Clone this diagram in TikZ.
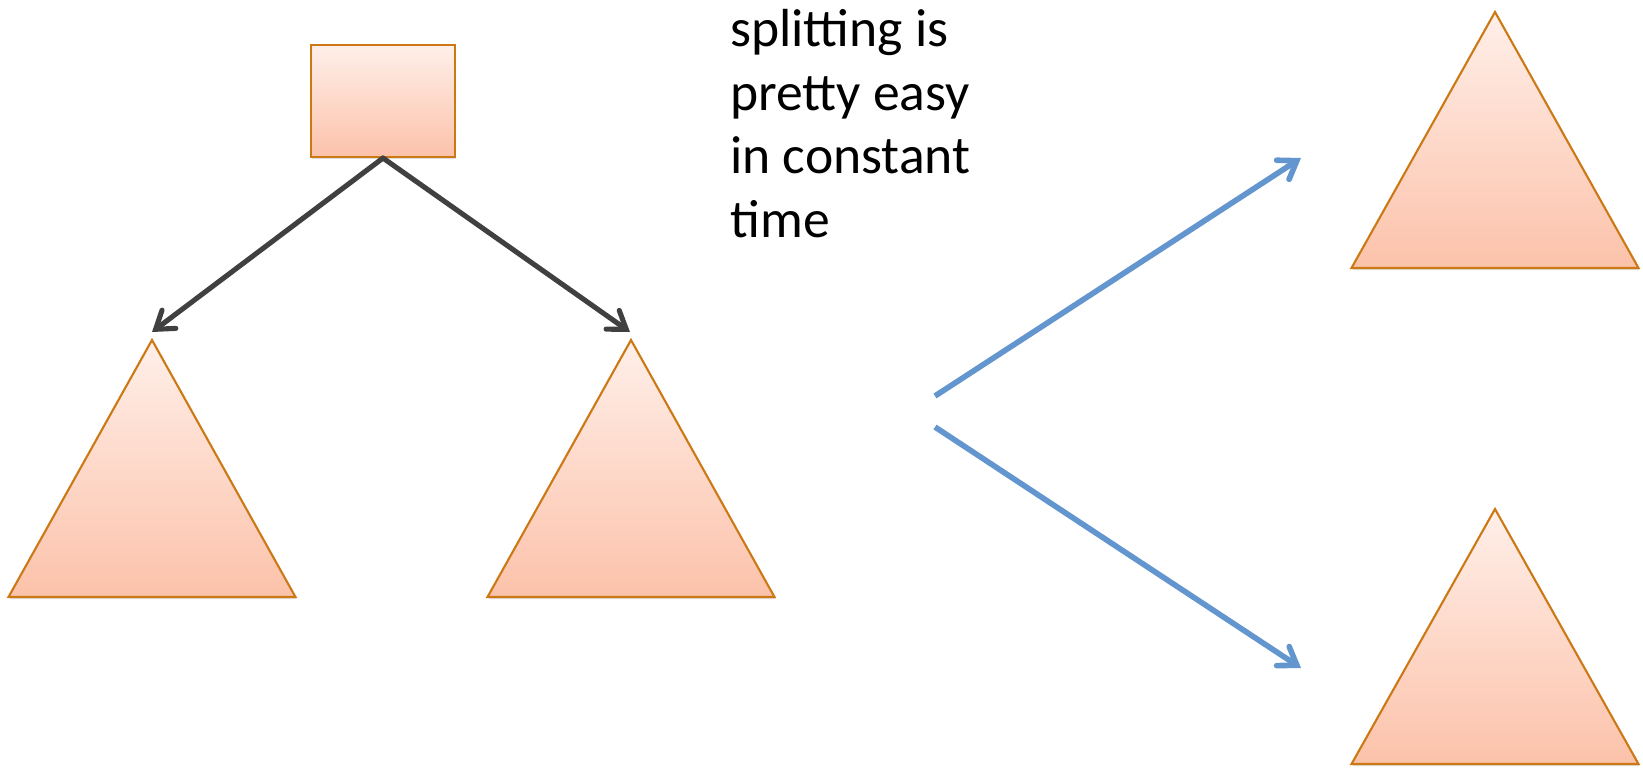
\documentclass[tikz,border=0pt]{standalone}
\usepackage{fontspec}
\setmainfont{Carlito}
\usepackage{tikz}
\usetikzlibrary{arrows.meta, shadows, positioning}

\definecolor{treeborder}{RGB}{204,120,20}
\definecolor{treetop}{RGB}{255,239,233}
\definecolor{treebottom}{RGB}{252,194,170}
\definecolor{edgegray}{RGB}{64,64,64}
\definecolor{splitblue}{RGB}{99,150,206}

\tikzset{
    treeshape/.style={draw=treeborder, line width=1.2pt, line join=miter,
        top color=treetop, bottom color=treebottom,
        drop shadow={opacity=0.25, shadow xshift=0.6pt, shadow yshift=-1.2pt}},
    edge/.style={draw=edgegray, line width=2.9pt, line cap=round,
        -{Straight Barb[length=9.5pt, width=13pt, line cap=round]}},
    split/.style={draw=splitblue, line width=3.2pt,
        -{Straight Barb[length=9.5pt, width=13pt, line cap=round]}},
}

\begin{document}
\begin{tikzpicture}[x=0.02cm, y=-0.02cm]
    \useasboundingbox (0,0) rectangle (1643,770);

    % root node with its two subtrees
    \node[treeshape, minimum width=2.88cm, minimum height=2.24cm, inner sep=0] (root) at (383,101) {};
    \coordinate (lapex) at (152,340);
    \coordinate (rapex) at (631,340);
    \draw[treeshape] (lapex) -- ++(-143.5,257) -- ++(287,0) -- cycle;
    \draw[treeshape] (rapex) -- ++(-143.5,257) -- ++(287,0) -- cycle;
    \coordinate (ltip) at (152,332);
    \coordinate (rtip) at (630,332);
    \draw[edge] (root.south) -- (ltip);
    \draw[edge] (root.south) -- (rtip);

    \node[anchor=north west, align=left, inner sep=0,
          font=\fontsize{30.5}{36.2}\selectfont] (note) at (730,9)
        {splitting is\\pretty easy\\in constant\\time};

    % the two trees after the split
    \coordinate (tapex) at (1495,12);
    \coordinate (bapex) at (1495,509);
    \draw[treeshape] (tapex) -- ++(-143.5,256) -- ++(287,0) -- cycle;
    \draw[treeshape] (bapex) -- ++(-143.5,255) -- ++(287,0) -- cycle;
    \coordinate (ufrom) at (935,396);
    \coordinate (uto) at (1301,158);
    \coordinate (dfrom) at (935,427);
    \coordinate (dto) at (1301,668);
    \draw[split] (ufrom) -- (uto);
    \draw[split] (dfrom) -- (dto);
\end{tikzpicture}
\end{document}
